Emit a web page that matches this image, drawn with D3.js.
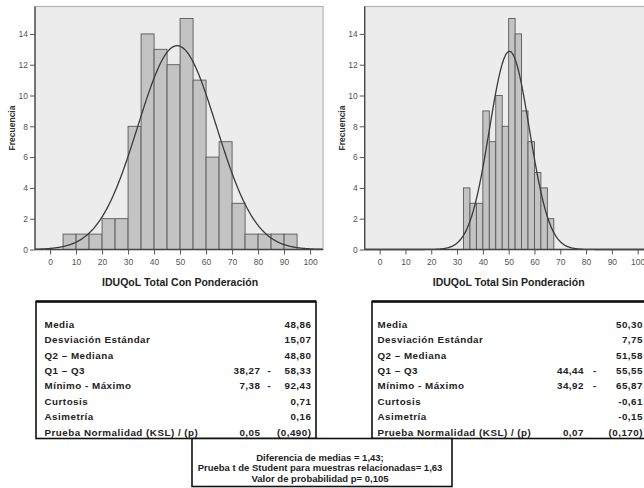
<!DOCTYPE html>
<html><head><meta charset="utf-8">
<script src="https://cdn.jsdelivr.net/npm/d3@7"></script>
<style>
html,body{margin:0;padding:0;background:#fff;}
svg{display:block;}
text{font-family:"Liberation Sans",Arial,sans-serif;}
</style></head>
<body>
<svg id="c" width="644" height="488"></svg>
<script>
// ---------- DATA ----------
const leftBins   = [5,10,15,20,25,30,35,40,45,50,55,60,65,70,75,80,85,90];
const leftCounts = [1,1,1,2,2,8,14,13,12,15,11,6,7,3,1,1,1,1];
const leftWidth  = 5;
const leftMean = 48.86, leftSD = 15.07;

const rightBins   = [32.5,35,37.5,40,42.5,45,47.5,50,52.5,55,57.5,60,62.5,65];
const rightCounts = [4,3,3,9,7,10,8,15,14,9,7,5,4,2];
const rightWidth  = 2.5;
const rightMean = 50.30, rightSD = 7.75;

const xTicks = [0,10,20,30,40,50,60,70,80,90,100];
const yTicks = [0,2,4,6,8,10,12,14];
const yLabel = "Frecuencia";
const leftTitle  = "IDUQoL Total Con Ponderación";
const rightTitle = "IDUQoL Total Sin Ponderación";

const statLabels = ["Media","Desviación Estándar","Q2 – Mediana","Q1 – Q3","Mínimo - Máximo","Curtosis","Asimetría","Prueba Normalidad (KSL) / (p)"];
const leftMid    = ["","","","38,27","7,38","","","0,05"];
const leftVal    = ["48,86","15,07","48,80","58,33","92,43","0,71","0,16","(0,490)"];
const rightMid   = ["","","","44,44","34,92","","","0,07"];
const rightVal   = ["50,30","7,75","51,58","55,55","65,87","-0,61","-0,15","(0,170)"];

const bottomLines = ["Diferencia de medias = 1,43;","Prueba t de Student para muestras relacionadas= 1,63","Valor de probabilidad  p= 0,105"];

// ---------- DRAW ----------
const svg = d3.select("#c");

function histogram(cfg){
  const g = svg.append("g");
  const x = d3.scaleLinear().domain([-5.8,105]).range([cfg.x0, cfg.x0+cfg.pxPerUnit*110.8]);
  const y = d3.scaleLinear().domain([0,15.78]).range([249.5,6.5]);
  const [xa,xb] = x.range();
  g.append("rect").attr("x",xa).attr("y",y(15.78)).attr("width",xb-xa).attr("height",y(0)-y(15.78))
    .attr("fill","#ececec").attr("stroke","#b4b4b4").attr("stroke-width",1.2);
  g.selectAll("rect.bar").data(cfg.bins.map((b,i)=>({b,c:cfg.counts[i]}))).join("rect")
    .attr("class","bar")
    .attr("x",d=>x(d.b)).attr("width",d=>x(d.b+cfg.width)-x(d.b))
    .attr("y",d=>y(d.c)).attr("height",d=>y(0)-y(d.c))
    .attr("fill","#c3c3c3").attr("stroke","#5a5a5a").attr("stroke-width",0.9);
  const pts = d3.range(-5.8,105.01,0.25).map(v=>[v, 100*cfg.width/(cfg.sd*Math.sqrt(2*Math.PI))*Math.exp(-0.5*Math.pow((v-cfg.mean)/cfg.sd,2))]);
  g.append("path").datum(pts).attr("fill","none").attr("stroke","#3a3a3a").attr("stroke-width",1.3)
    .attr("d",d3.line().x(d=>x(d[0])).y(d=>y(d[1])).curve(d3.curveBasis));
  const ya = g.append("g").attr("transform",`translate(${xa},0)`)
    .call(d3.axisLeft(y).tickValues(yTicks).tickSize(5).tickPadding(2));
  ya.select(".domain").attr("stroke","#444").attr("stroke-width",1.3).attr("d",`M0,${y(0)}V${y(15.78)}`);
  ya.selectAll(".tick line").attr("stroke","#555");
  ya.selectAll(".tick text").attr("fill","#555").style("font-size","8.5px").style("font-family","'Liberation Sans',Arial,sans-serif");
  const xaG = g.append("g").attr("transform",`translate(0,${y(0)})`)
    .call(d3.axisBottom(x).tickValues(xTicks).tickSize(5).tickPadding(4));
  xaG.select(".domain").attr("stroke","#444").attr("stroke-width",1.3).attr("d",`M${xa},0H${xb}`);
  xaG.selectAll(".tick line").attr("stroke","#555");
  xaG.selectAll(".tick text").attr("fill","#555").style("font-size","8.5px").style("font-family","'Liberation Sans',Arial,sans-serif");
  g.append("text").attr("x",(x(0)+x(100))/2).attr("y",285.5).attr("text-anchor","middle")
    .style("font-size","10.5px").style("font-weight","bold").attr("fill","#222").text(cfg.title);
  g.append("text").attr("transform",`translate(${cfg.ylabX},128) rotate(-90)`).attr("text-anchor","middle")
    .style("font-size","8.5px").style("font-weight","bold").attr("fill","#333").text(yLabel);
}

histogram({x0:35, pxPerUnit:2.6, bins:leftBins, counts:leftCounts, width:leftWidth, mean:leftMean, sd:leftSD, title:leftTitle, ylabX:15});
histogram({x0:364.7, pxPerUnit:2.58, bins:rightBins, counts:rightCounts, width:rightWidth, mean:rightMean, sd:rightSD, title:rightTitle, ylabX:345});

function statTable(cfg){
  const g = svg.append("g");
  g.append("rect").attr("x",cfg.x).attr("y",301.5).attr("width",cfg.w).attr("height",137)
    .attr("fill","#fff").attr("stroke","#111").attr("stroke-width",1.6);
  g.append("line").attr("x1",cfg.x).attr("x2",cfg.x+cfg.w).attr("y1",301.5).attr("y2",301.5).attr("stroke","#111").attr("stroke-width",2.6);
  const rowY = d3.scaleLinear().domain([0,7]).range([324.3,432.3]);
  const tx = (sel)=>sel.style("font-size","9.8px").style("font-weight","bold").style("letter-spacing","0.5px").attr("fill","#222");
  statLabels.forEach((lab,i)=>{
    g.append("text").attr("x",cfg.labX).attr("y",rowY(i)).attr("dy","0.35em").call(tx).text(lab);
    g.append("text").attr("x",cfg.valX).attr("y",rowY(i)).attr("dy","0.35em").attr("text-anchor","end").call(tx).text(cfg.vals[i]);
    if(cfg.mids[i]){
      g.append("text").attr("x",cfg.midX).attr("y",rowY(i)).attr("dy","0.35em").attr("text-anchor","end").call(tx).text(cfg.mids[i]);
      if(i!==7) g.append("text").attr("x",cfg.dashX).attr("y",rowY(i)).attr("dy","0.35em").attr("text-anchor","middle").call(tx).text("-");
    }
  });
}
statTable({x:36, w:280, labX:44.5, valX:311.5, midX:260.5, dashX:269.5, mids:leftMid, vals:leftVal});
statTable({x:372, w:290, labX:377.5, valX:643, midX:584, dashX:595, mids:rightMid, vals:rightVal});

const bg = svg.append("g");
bg.append("rect").attr("x",192).attr("y",438.5).attr("width",260).attr("height",48)
  .attr("fill","#fff").attr("stroke","#111").attr("stroke-width",1.6);
const by = d3.scaleLinear().domain([0,2]).range([457.3,478.3]);
bottomLines.forEach((t,i)=>{
  bg.append("text").attr("x",320).attr("y",by(i)).attr("dy","0.35em").attr("text-anchor","middle")
    .style("font-size","9.5px").style("font-weight","bold").attr("fill","#222").text(t);
});
</script>
</body></html>
